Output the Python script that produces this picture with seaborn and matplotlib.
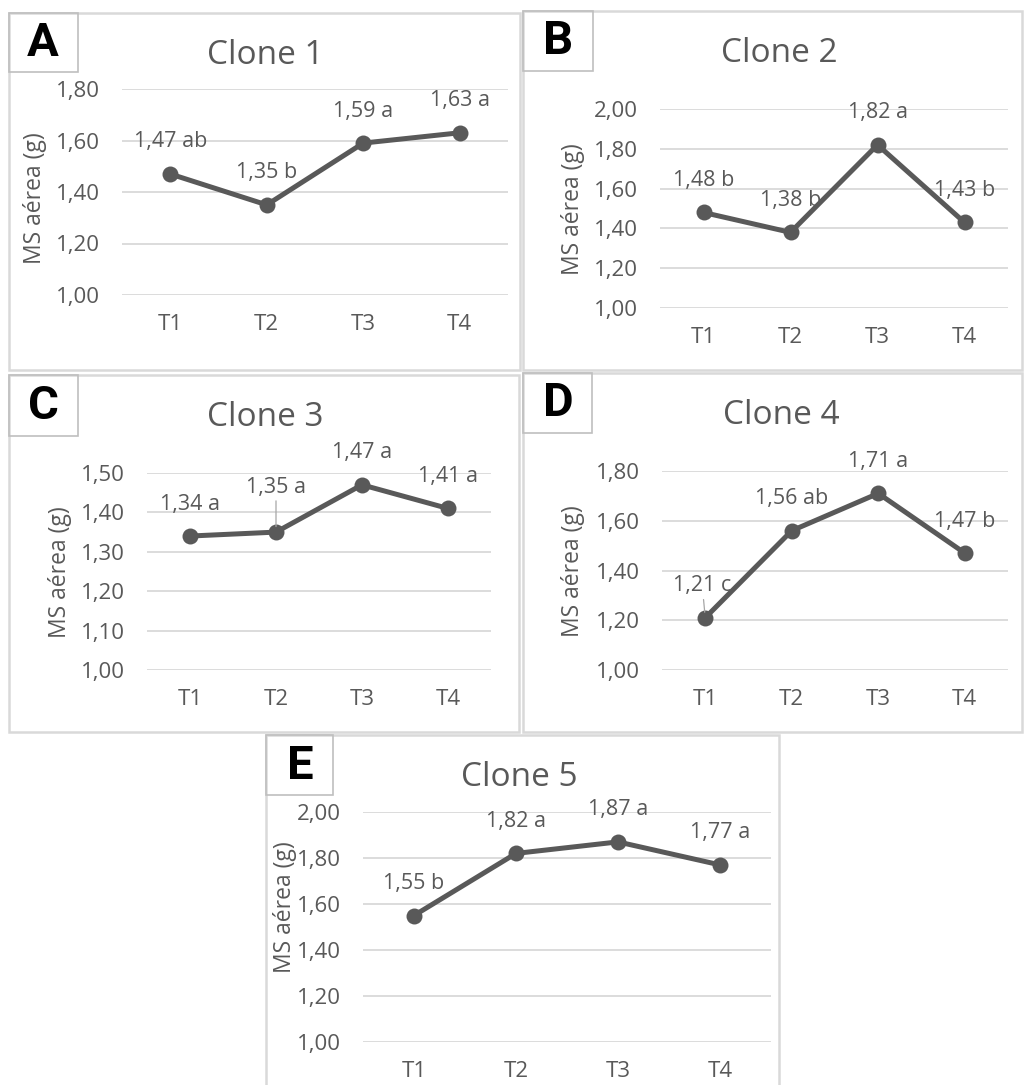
import numpy as np
import pandas as pd
import seaborn as sns
import matplotlib.pyplot as plt
from matplotlib.patches import Rectangle
from matplotlib.ticker import FuncFormatter

# dados (MS aérea em g)
tratamentos = ['T1', 'T2', 'T3', 'T4']
clone1 = [1.47, 1.35, 1.59, 1.63]
letras1 = ['ab', 'b', 'a', 'a']
clone2 = [1.48, 1.38, 1.82, 1.43]
letras2 = ['b', 'b', 'a', 'b']
clone3 = [1.34, 1.35, 1.47, 1.41]
letras3 = ['a', 'a', 'a', 'a']
clone4 = [1.21, 1.56, 1.71, 1.47]
letras4 = ['c', 'ab', 'a', 'b']
clone5 = [1.55, 1.82, 1.87, 1.77]
letras5 = ['b', 'a', 'a', 'a']

sns.set_theme(style='white')
plt.rcParams['font.family'] = ['Open Sans', 'DejaVu Sans']

CINZA = '#595959'
W, H = 1024, 1085
fig = plt.figure(figsize=(W / 100, H / 100), dpi=100)


def caixa(x0, y0, x1, y1, cor, lw):
    fig.patches.append(Rectangle((x0 / W, 1 - y1 / H), (x1 - x0) / W, (y1 - y0) / H,
                                 transform=fig.transFigure, fill=False,
                                 edgecolor=cor, lw=lw))


def virgula(v, pos=None):
    return f'{v:.2f}'.replace('.', ',')


# layout de cada painel em pixels (área do gráfico, borda, caixa da letra, título, rótulo y)
paineis = [
    dict(letra='A', titulo='Clone 1', valores=clone1, letras=letras1, ymax=1.8, passo=0.2,
         area=(122, 89, 508, 295), borda=(9, 13, 520, 370), cx=(9, 13, 78, 72),
         pl=(43, 43), pt=(265, 56), py=(35, 198), guia={}),
    dict(letra='B', titulo='Clone 2', valores=clone2, letras=letras2, ymax=2.0, passo=0.2,
         area=(660, 109, 1008, 308), borda=(523, 11, 1022, 370), cx=(523, 11, 593, 71),
         pl=(558, 41), pt=(779, 53), py=(573, 209), guia={}),
    dict(letra='C', titulo='Clone 3', valores=clone3, letras=letras3, ymax=1.5, passo=0.1,
         area=(147, 473, 491, 670), borda=(9, 375, 519, 732), cx=(9, 375, 78, 436),
         pl=(44, 406), pt=(265, 417), py=(60, 572), guia={1: (0, 45)}),
    dict(letra='D', titulo='Clone 4', valores=clone4, letras=letras4, ymax=1.8, passo=0.2,
         area=(662, 471, 1008, 670), borda=(523, 373, 1022, 732), cx=(523, 373, 592, 433),
         pl=(558, 403), pt=(781, 415), py=(573, 571), guia={0: (-3, 32)}),
    dict(letra='E', titulo='Clone 5', valores=clone5, letras=letras5, ymax=2.0, passo=0.2,
         area=(363, 812, 771, 1042), borda=(266, 735, 779, 1095), cx=(266, 735, 333, 795),
         pl=(300, 766), pt=(519, 777), py=(285, 907), guia={}),
]

for p in paineis:
    caixa(*p['borda'], '#d9d9d9', 1.8)
    caixa(*p['cx'], '#bfbfbf', 1.2)
    fig.text(p['pl'][0] / W, 1 - p['pl'][1] / H, p['letra'], ha='center', va='center',
             fontsize=34, fontweight='bold', color='black', family=['Roboto', 'DejaVu Sans'])
    fig.text(p['pt'][0] / W, 1 - p['pt'][1] / H, p['titulo'], ha='center', va='center',
             fontsize=24, color=CINZA)
    fig.text(p['py'][0] / W, 1 - p['py'][1] / H, 'MS aérea (g)', ha='center', va='center',
             rotation=90, fontsize=16.5, color=CINZA)

    x0, y0, x1, y1 = p['area']
    ax = fig.add_axes([x0 / W, 1 - y1 / H, (x1 - x0) / W, (y1 - y0) / H])
    df = pd.DataFrame({'Tratamento': tratamentos, 'MS': p['valores']})
    sns.lineplot(data=df, x='Tratamento', y='MS', ax=ax, sort=False, color=CINZA,
                 linewidth=3.6, marker='o', markersize=11.5, markeredgewidth=0)

    ax.set_xlim(-0.5, len(tratamentos) - 0.5)
    ax.set_ylim(1.0, p['ymax'])
    ax.set_yticks(np.arange(1.0, p['ymax'] + p['passo'] / 2, p['passo']))
    ax.yaxis.set_major_formatter(FuncFormatter(virgula))
    ax.grid(axis='y', color='#d9d9d9', linewidth=1.3)
    ax.grid(axis='x', visible=False)
    for s in ax.spines.values():
        s.set_visible(False)
    ax.tick_params(axis='y', length=0, pad=16, labelsize=16, labelcolor=CINZA)
    ax.tick_params(axis='x', length=0, pad=14, labelsize=16, labelcolor=CINZA)
    ax.set_xlabel('')
    ax.set_ylabel('')
    ax.patch.set_alpha(0)

    for i, (v, l) in enumerate(zip(p['valores'], p['letras'])):
        texto = f'{virgula(v)} {l}'
        if i in p['guia']:
            ax.annotate(texto, xy=(i, v), xytext=p['guia'][i], textcoords='offset pixels',
                        ha='center', va='center', fontsize=15.5, color=CINZA,
                        arrowprops=dict(arrowstyle='-', color='#a6a6a6', lw=0.9,
                                        shrinkA=0, shrinkB=4))
        else:
            ax.annotate(texto, xy=(i, v), xytext=(0, 32), textcoords='offset pixels',
                        ha='center', va='center', fontsize=15.5, color=CINZA)

fig.savefig('out.png', dpi=100)
